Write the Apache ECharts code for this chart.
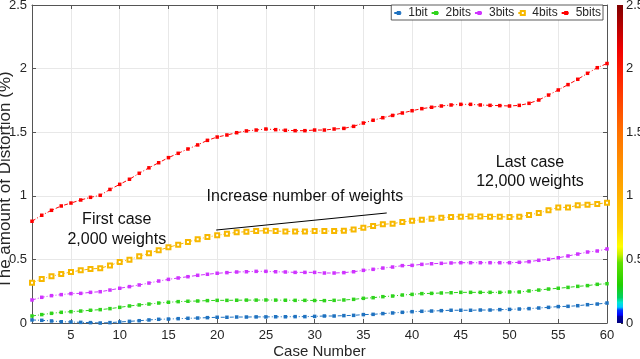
<!DOCTYPE html>
<html>
<head>
<meta charset="utf-8">
<script src="https://cdn.jsdelivr.net/npm/echarts@6/dist/echarts.min.js"></script>
<style>
  html, body { margin: 0; padding: 0; background: #fff; }
  #chart { width: 640px; height: 359px; }
</style>
</head>
<body>
<div id="chart"></div>
<script>
// case numbers on the x axis
const caseNum = [1, 2, 3, 4, 5, 6, 7, 8, 9, 10, 11, 12, 13, 14, 15, 16, 17, 18, 19, 20,
  21, 22, 23, 24, 25, 26, 27, 28, 29, 30, 31, 32, 33, 34, 35, 36, 37, 38, 39, 40,
  41, 42, 43, 44, 45, 46, 47, 48, 49, 50, 51, 52, 53, 54, 55, 56, 57, 58, 59, 60];
const xTicks = [5, 10, 15, 20, 25, 30, 35, 40, 45, 50, 55, 60];

// distortion (%) per case
const bit1 = [0.024, 0.021, 0.016, 0.010, 0.008, 0.005, 0.003, 0.000, 0.003, 0.008,
  0.013, 0.018, 0.024, 0.029, 0.031, 0.034, 0.037, 0.039, 0.042, 0.045,
  0.045, 0.047, 0.047, 0.048, 0.048, 0.049, 0.049, 0.050, 0.050, 0.052,
  0.055, 0.055, 0.058, 0.060, 0.066, 0.068, 0.074, 0.079, 0.084, 0.089,
  0.092, 0.094, 0.097, 0.100, 0.100, 0.100, 0.102, 0.102, 0.105, 0.107,
  0.110, 0.113, 0.118, 0.123, 0.129, 0.131, 0.136, 0.144, 0.149, 0.157];
const bit2 = [0.055, 0.066, 0.076, 0.084, 0.089, 0.094, 0.100, 0.105, 0.113, 0.123,
  0.134, 0.142, 0.149, 0.157, 0.163, 0.168, 0.171, 0.173, 0.176, 0.178,
  0.178, 0.179, 0.180, 0.180, 0.181, 0.180, 0.179, 0.178, 0.178, 0.177,
  0.176, 0.178, 0.181, 0.186, 0.194, 0.199, 0.207, 0.212, 0.220, 0.225,
  0.231, 0.233, 0.236, 0.238, 0.241, 0.241, 0.241, 0.241, 0.241, 0.244,
  0.244, 0.252, 0.259, 0.267, 0.273, 0.280, 0.288, 0.294, 0.304, 0.309];
const bit3 = [0.181, 0.202, 0.215, 0.223, 0.231, 0.233, 0.241, 0.246, 0.259, 0.273,
  0.286, 0.299, 0.314, 0.330, 0.343, 0.354, 0.364, 0.375, 0.383, 0.391,
  0.396, 0.401, 0.403, 0.406, 0.406, 0.403, 0.401, 0.398, 0.398, 0.398,
  0.393, 0.393, 0.396, 0.403, 0.414, 0.422, 0.432, 0.440, 0.451, 0.453,
  0.461, 0.466, 0.469, 0.472, 0.474, 0.474, 0.474, 0.474, 0.474, 0.474,
  0.477, 0.482, 0.493, 0.501, 0.513, 0.527, 0.542, 0.558, 0.566, 0.582];
const bit4 = [0.317, 0.346, 0.367, 0.385, 0.401, 0.414, 0.425, 0.430, 0.453, 0.480,
  0.498, 0.524, 0.548, 0.572, 0.595, 0.616, 0.637, 0.658, 0.676, 0.689,
  0.702, 0.713, 0.718, 0.723, 0.726, 0.723, 0.720, 0.720, 0.720, 0.723,
  0.723, 0.723, 0.726, 0.736, 0.749, 0.763, 0.776, 0.781, 0.794, 0.804,
  0.812, 0.820, 0.828, 0.833, 0.836, 0.838, 0.838, 0.836, 0.836, 0.833,
  0.836, 0.849, 0.865, 0.886, 0.909, 0.909, 0.925, 0.930, 0.936, 0.946];
const bit5 = [0.800, 0.847, 0.886, 0.920, 0.943, 0.967, 0.988, 1.004, 1.050, 1.090,
  1.130, 1.177, 1.220, 1.260, 1.300, 1.334, 1.368, 1.400, 1.436, 1.462,
  1.478, 1.496, 1.510, 1.517, 1.525, 1.520, 1.515, 1.512, 1.512, 1.517,
  1.517, 1.525, 1.530, 1.546, 1.572, 1.594, 1.614, 1.632, 1.651, 1.669,
  1.685, 1.696, 1.706, 1.714, 1.719, 1.719, 1.714, 1.711, 1.709, 1.706,
  1.711, 1.727, 1.753, 1.792, 1.832, 1.874, 1.916, 1.963, 2.007, 2.040];

const names = ['1bit', '2bits', '3bits', '4bits', '5bits'];
const values = [bit1, bit2, bit3, bit4, bit5];
const colors = ['#1f72c0', '#2fd41c', '#cf33ff', '#f7b800', '#ff0000'];

// colorbar range
const cbarMax = [2.5];

// annotations, in data coordinates
const notes = [
  { text: 'Increase number of weights', at: [29.0, 0.99] },
  { text: 'First case', at: [9.7, 0.81] },
  { text: '2,000 weights', at: [9.7, 0.653] },
  { text: 'Last case', at: [52.1, 1.26] },
  { text: '12,000 weights', at: [52.1, 1.111] }
];
const arrow = [[19.9, 0.731], [37.4, 0.865]];

const axisColor = '#555';
const textColor = '#262626';
const font = 'Liberation Sans, Arial, Helvetica, sans-serif';

let series = names.map(function (n, k) {
  return {
    name: n,
    type: 'line',
    xAxisIndex: 0,
    yAxisIndex: 0,
    data: caseNum.map(function (c, i) { return [c, values[k][i]]; }),
    symbol: k === 3 ? 'emptyRect' : 'rect',
    symbolSize: k === 3 ? 4 : 3.5,
    showSymbol: true,
    itemStyle: { color: colors[k], borderWidth: 1 },
    lineStyle: { color: colors[k], width: 1, type: [4, 2, 1, 2] },
    animation: false,
    z: 3 + k
  };
});

series.push({
  name: 'arrow',
  type: 'line',
  xAxisIndex: 0,
  yAxisIndex: 0,
  data: [],
  silent: true,
  markLine: {
    silent: true,
    animation: false,
    symbol: ['none', 'arrow'],
    symbolSize: [0, 7],
    label: { show: false },
    lineStyle: { color: '#000', width: 1, type: 'solid' },
    data: [[{ coord: arrow[0] }, { coord: arrow[1] }]]
  }
});

// colorbar
series.push({
  type: 'bar',
  xAxisIndex: 2,
  yAxisIndex: 2,
  data: cbarMax,
  barWidth: 6,
  silent: true,
  animation: false,
  itemStyle: {
    color: new echarts.graphic.LinearGradient(0, 1, 0, 0, [
      { offset: 0, color: '#00007f' },
      { offset: 0.02, color: '#00009f' },
      { offset: 0.025, color: '#0000ff' },
      { offset: 0.04, color: '#0030ff' },
      { offset: 0.05, color: '#00c8ff' },
      { offset: 0.065, color: '#00e8d0' },
      { offset: 0.08, color: '#00d060' },
      { offset: 0.12, color: '#20d000' },
      { offset: 0.19, color: '#60e000' },
      { offset: 0.215, color: '#c8f000' },
      { offset: 0.24, color: '#ffff00' },
      { offset: 0.3, color: '#ffd200' },
      { offset: 0.4, color: '#ffb000' },
      { offset: 0.6, color: '#ff7000' },
      { offset: 0.78, color: '#ff2000' },
      { offset: 0.86, color: '#f00000' },
      { offset: 1, color: '#800000' }
    ])
  }
});

const yBase = {
  type: 'value',
  min: 0,
  max: 2.5,
  interval: 0.5,
  axisLine: { show: true, lineStyle: { color: axisColor, width: 1 } },
  axisTick: { show: true, inside: true, length: 4, lineStyle: { color: axisColor } }
};
const xBase = {
  type: 'value',
  min: 1,
  max: 60,
  axisLine: { show: true, onZero: false, lineStyle: { color: axisColor, width: 1 } },
  axisTick: { show: true, inside: true, length: 4, customValues: xTicks, lineStyle: { color: axisColor } }
};

const option = {
  backgroundColor: '#fff',
  animation: false,
  textStyle: { fontFamily: font },
  grid: [
    { left: 32, right: 33, top: 5, bottom: 36, outerBoundsMode: 'none', containLabel: false },
    { left: 617, width: 6, top: 5, bottom: 36, outerBoundsMode: 'none', containLabel: false }
  ],
  legend: {
    data: names,
    right: 37,
    top: 5,
    orient: 'horizontal',
    itemWidth: 9,
    itemHeight: 5,
    itemGap: 3,
    padding: [2, 2, 1, 2],
    borderColor: '#333',
    borderWidth: 0.8,
    backgroundColor: '#fff',
    textStyle: { fontSize: 12, color: textColor, fontFamily: font }
  },
  xAxis: [
    Object.assign({}, xBase, {
      gridIndex: 0,
      position: 'bottom',
      name: 'Case Number',
      nameLocation: 'middle',
      nameGap: 21,
      nameMoveOverlap: false,
      nameTextStyle: { fontSize: 15, color: textColor },
      axisLabel: { customValues: xTicks, fontSize: 13, color: textColor, margin: 6 },
      splitLine: { show: true, lineStyle: { color: '#e8e8e8', width: 1 } }
    }),
    Object.assign({}, xBase, {
      gridIndex: 0,
      position: 'top',
      axisLabel: { show: false },
      splitLine: { show: false }
    }),
    {
      type: 'category',
      gridIndex: 1,
      data: ['c'],
      show: false
    }
  ],
  yAxis: [
    Object.assign({}, yBase, {
      gridIndex: 0,
      position: 'left',
      name: 'The amount of Distortion (%)',
      nameLocation: 'middle',
      nameGap: 18,
      nameMoveOverlap: false,
      nameTextStyle: { fontSize: 17, color: textColor, padding: [0, 32, 0, 0] },
      axisLabel: { fontSize: 13, color: textColor, margin: 5 },
      splitLine: { show: true, lineStyle: { color: '#e8e8e8', width: 1 } }
    }),
    Object.assign({}, yBase, {
      gridIndex: 0,
      position: 'right',
      axisLabel: { show: false },
      splitLine: { show: false }
    }),
    {
      type: 'value',
      gridIndex: 1,
      min: 0,
      max: 2.5,
      interval: 0.5,
      position: 'right',
      axisLine: { show: false },
      axisTick: { show: true, inside: true, length: 2, lineStyle: { color: '#333' } },
      axisLabel: { fontSize: 13, color: textColor, margin: 3 },
      splitLine: { show: false }
    }
  ],
  series: series
};

const chart = echarts.init(document.getElementById('chart'));
chart.setOption(option);

// place the text notes through the grid's own scale
chart.setOption({
  graphic: notes.map(function (n) {
    const p = chart.convertToPixel({ gridIndex: 0 }, n.at);
    return {
      type: 'text',
      x: p[0],
      y: p[1],
      z: 20,
      style: {
        text: n.text,
        fill: '#111',
        font: '16px ' + font,
        textAlign: 'center',
        textVerticalAlign: 'middle'
      }
    };
  })
});
</script>
</body>
</html>
